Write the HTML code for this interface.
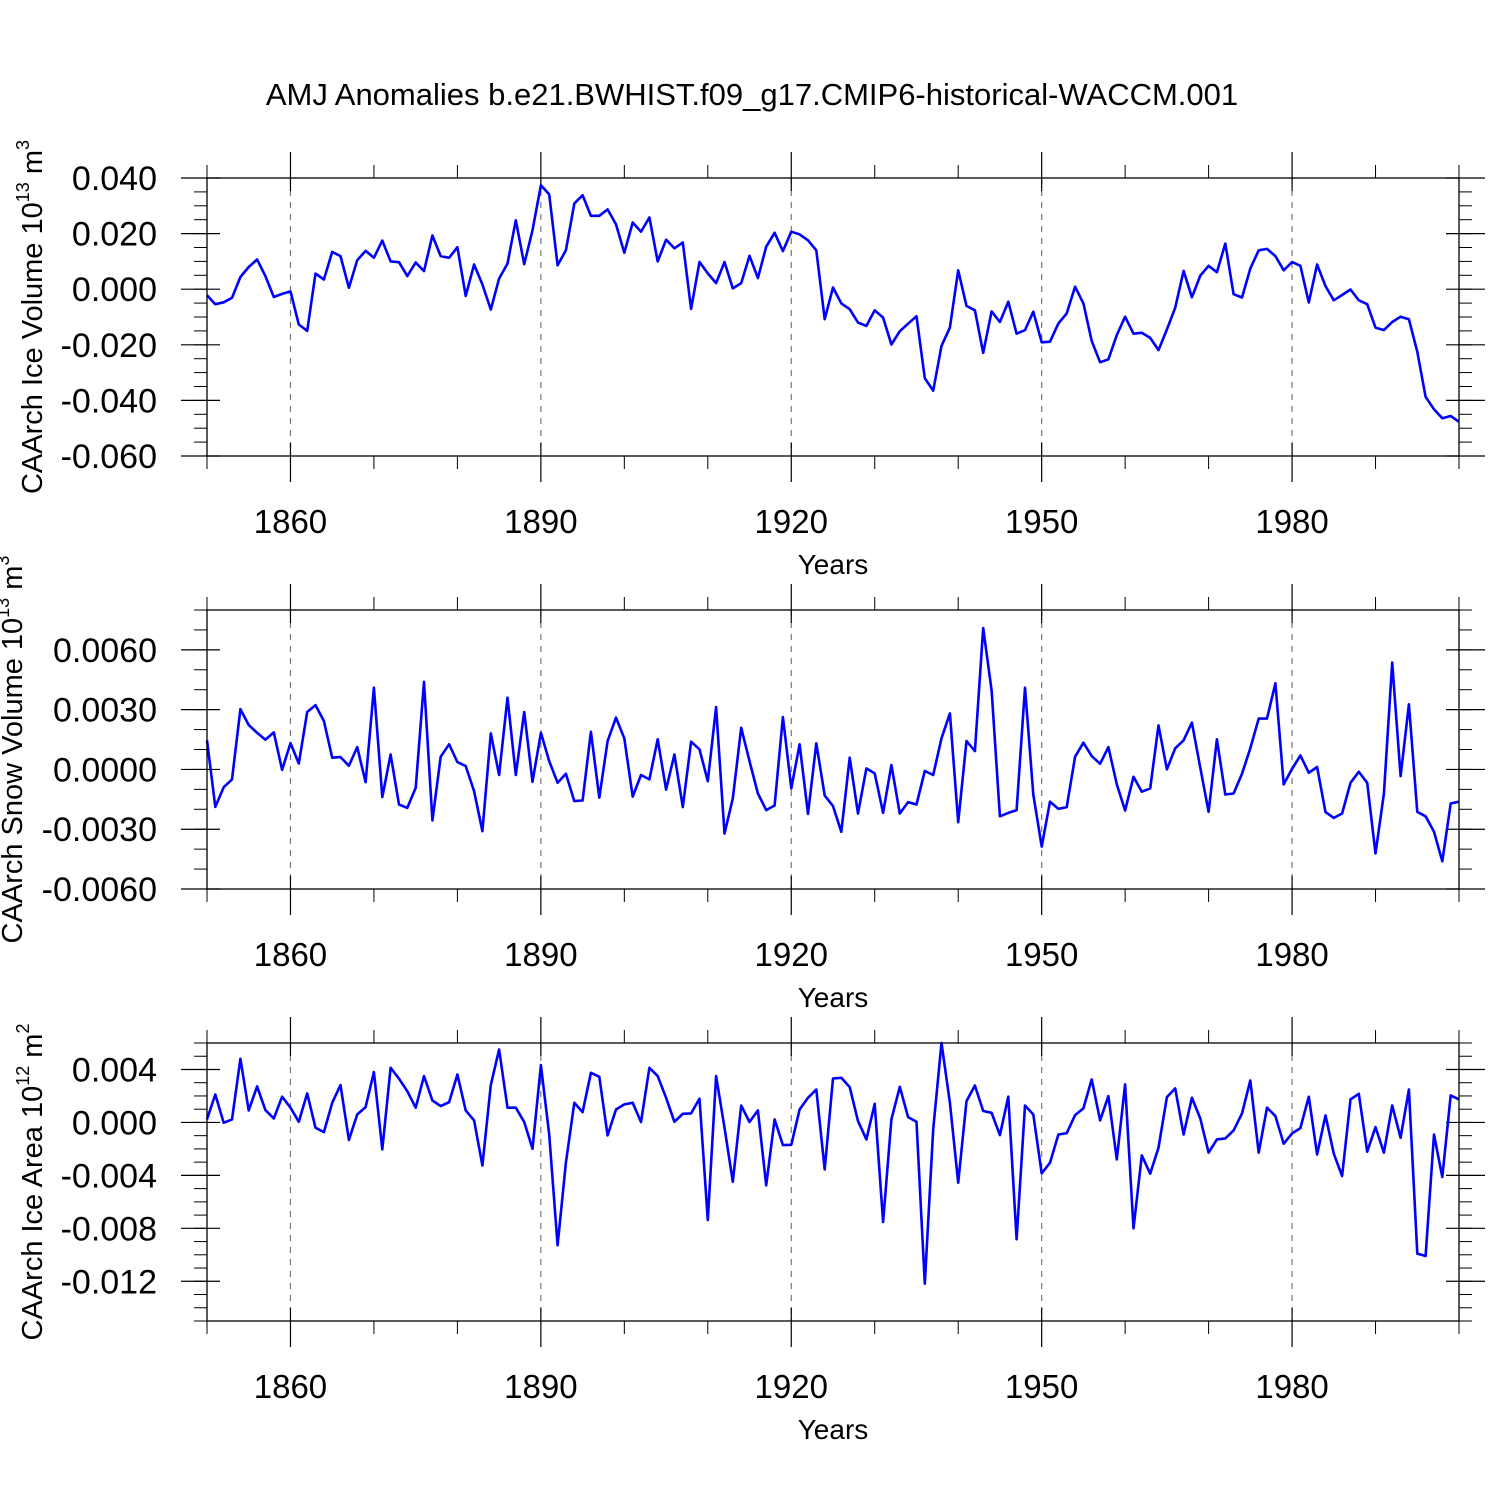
<!DOCTYPE html>
<html><head><meta charset="utf-8"><style>
html,body{margin:0;padding:0;background:#fff;}
svg{display:block;font-family:"Liberation Sans",Arial,sans-serif;}
</style></head><body>
<svg id="chart" width="1500" height="1500" viewBox="0 0 1500 1500" xmlns="http://www.w3.org/2000/svg">
<rect x="0" y="0" width="1500" height="1500" fill="#fff"/>
<text x="752" y="105" font-size="31" text-anchor="middle">AMJ Anomalies b.e21.BWHIST.f09_g17.CMIP6-historical-WACCM.001</text>
</svg>
<script>
const years = [];
for (let y = 1850; y <= 2000; y++) years.push(y);

const iceVolume = [-2.2,-5.4,-4.7,-3.1,4.4,8.0,10.7,4.7,-2.8,-1.7,-0.8,-12.7,-15.0,5.6,3.5,13.4,11.9,0.5,10.4,13.8,11.3,17.5,10.0,9.7,4.7,9.6,6.5,19.3,11.9,11.3,15.1,-2.4,8.9,1.7,-7.3,3.8,9.2,24.8,9.0,21.2,37.4,34.1,8.6,14.0,30.8,33.8,26.4,26.4,28.7,23.3,
13.1,24.0,20.7,25.8,10.0,17.8,14.7,16.8,-7.1,9.8,5.7,2.2,9.8,0.3,2.2,12.0,4.0,15.3,20.3,13.7,20.7,19.7,17.6,14.0,-10.8,0.6,-5.1,-7.2,-12.0,-13.2,-7.6,-10.2,-19.9,-15.1,-12.4,-9.7,-32.0,-36.5,-20.4,-13.8,6.8,-6.0,-7.6,-22.9,-8.0,-11.8,-4.5,-16.0,-14.7,-8.1,
-19.1,-18.9,-12.3,-8.7,0.9,-5.1,-18.6,-26.3,-25.2,-16.5,-9.9,-16.0,-15.7,-17.5,-21.9,-14.5,-6.7,6.6,-2.9,4.9,8.4,6.1,16.4,-1.8,-3.0,7.4,14.0,14.5,11.9,6.8,9.8,8.4,-4.8,8.9,1.1,-4.0,-2.1,-0.1,-4.0,-5.4,-13.8,-14.7,-11.8,-9.9,-10.8,-22.5,-38.7,-43.2,-46.4,-45.6,-47.7];

const snowVolume = [1.46,-1.88,-0.89,-0.50,3.02,2.23,1.84,1.49,1.86,-0.02,1.32,0.30,2.88,3.23,2.43,0.59,0.62,0.18,1.12,-0.64,4.10,-1.39,0.75,-1.76,-1.93,-0.92,4.39,-2.56,0.64,1.26,0.37,0.17,-1.09,-3.10,1.81,-0.28,3.60,-0.28,2.88,-0.62,1.84,0.42,-0.67,-0.22,-1.59,-1.56,1.89,-1.42,1.42,2.60,
1.56,-1.37,-0.28,-0.50,1.51,-1.01,0.75,-1.89,1.39,1.01,-0.59,3.13,-3.22,-1.46,2.09,0.42,-1.21,-2.04,-1.81,2.63,-0.95,1.26,-2.23,1.31,-1.31,-1.84,-3.13,0.59,-2.21,0.05,-0.20,-2.18,0.22,-2.21,-1.64,-1.76,-0.08,-0.28,1.56,2.81,-2.65,1.42,0.92,7.09,3.97,-2.35,-2.18,-2.04,4.10,-1.26,
-3.87,-1.62,-1.98,-1.89,0.64,1.34,0.67,0.28,1.12,-0.75,-2.06,-0.37,-1.12,-0.95,2.21,0.00,1.06,1.46,2.35,0.08,-2.13,1.51,-1.26,-1.21,-0.22,1.06,2.55,2.55,4.32,-0.75,0.03,0.70,-0.17,0.12,-2.14,-2.43,-2.21,-0.67,-0.12,-0.67,-4.22,-1.22,5.36,-0.34,3.27,-2.13,-2.35,-3.13,-4.61,-1.71,-1.62];

const iceArea = [0.23,2.11,-0.03,0.23,4.81,0.91,2.72,0.93,0.30,1.94,1.11,0.05,2.19,-0.40,-0.73,1.48,2.82,-1.33,0.60,1.16,3.80,-2.04,4.13,3.30,2.36,1.11,3.50,1.66,1.23,1.53,3.62,0.91,0.15,-3.25,2.82,5.51,1.11,1.11,0.03,-1.99,4.33,-0.91,-9.28,-3.04,1.48,0.78,3.75,3.45,-0.98,0.98,
1.36,1.48,0.03,4.13,3.50,1.86,0.05,0.65,0.68,1.79,-7.37,3.50,-0.40,-4.48,1.28,0.03,0.91,-4.75,0.23,-1.71,-1.69,0.98,1.86,2.49,-3.55,3.32,3.37,2.67,0.10,-1.28,1.41,-7.52,0.23,2.69,0.40,0.05,-12.18,-0.53,6.01,1.48,-4.55,1.61,2.79,0.86,0.73,-0.96,1.94,-8.83,1.28,0.60,
-3.85,-3.04,-0.91,-0.81,0.55,1.06,3.25,0.15,1.99,-2.79,2.87,-8.00,-2.49,-3.87,-1.91,1.91,2.57,-0.91,1.86,0.30,-2.29,-1.28,-1.21,-0.60,0.68,3.17,-2.29,1.11,0.48,-1.61,-0.83,-0.43,1.94,-2.42,0.53,-2.36,-4.05,1.74,2.16,-2.21,-0.35,-2.29,1.28,-1.16,2.49,-9.91,-10.09,-0.91,-4.13,2.04,1.74];

const xTickYears = [1860,1890,1920,1950,1980];
const iceVolTicks = [0.040,0.020,0.000,-0.020,-0.040,-0.060];
const iceVolTickLabels = ["0.040","0.020","0.000","-0.020","-0.040","-0.060"];
const snowTicks = [0.006,0.003,0.000,-0.003,-0.006];
const snowTickLabels = ["0.0060","0.0030","0.0000","-0.0030","-0.0060"];
const areaTicks = [0.004,0.000,-0.004,-0.008,-0.012];
const areaTickLabels = ["0.004","0.000","-0.004","-0.008","-0.012"];

const NS = "http://www.w3.org/2000/svg";
const svg = document.getElementById("chart");
function mk(tag, attrs, parent) {
  const e = document.createElementNS(NS, tag);
  for (const k in attrs) e.setAttribute(k, attrs[k]);
  (parent || svg).appendChild(e);
  return e;
}

const X0 = 207, X1 = 1459, XMIN = 1850, XMAX = 2000;
function xs(yr) { return X0 + (yr - XMIN) / (XMAX - XMIN) * (X1 - X0); }

function panel(cfg) {
  const g = mk("g", {});
  
  
  const ys = v => cfg.top + (cfg.ymax - v) / (cfg.ymax - cfg.ymin) * (cfg.bot - cfg.top);
  xTickYears.forEach(yr => {
    const l = mk("line", {x1: xs(yr), x2: xs(yr), y1: cfg.top, y2: cfg.bot, stroke: "#777", "stroke-width": 1.2, "stroke-dasharray": "6,6"}, g);
    
    
  });
  for (let yr = 1850; yr <= 2000; yr += 10) {
    if (xTickYears.includes(yr)) continue;
    mk("line", {x1: xs(yr), x2: xs(yr), y1: cfg.bot, y2: cfg.bot + 13, stroke: "#000", "stroke-width": 1}, g);
    mk("line", {x1: xs(yr), x2: xs(yr), y1: cfg.top, y2: cfg.top - 13, stroke: "#000", "stroke-width": 1}, g);
  }
  xTickYears.forEach(yr => {
    mk("line", {x1: xs(yr), x2: xs(yr), y1: cfg.bot - 13, y2: cfg.bot + 26, stroke: "#000", "stroke-width": 1.2}, g);
    mk("line", {x1: xs(yr), x2: xs(yr), y1: cfg.top + 13, y2: cfg.top - 26, stroke: "#000", "stroke-width": 1.2}, g);
    const t = mk("text", {x: xs(yr), y: cfg.bot + 77, "font-size": 33, "text-anchor": "middle"}, g);
    
    
    t.textContent = String(yr);
  });
  for (let v = cfg.ymin; v <= cfg.ymax + 1e-9; v += cfg.minor) {
    const y = ys(v);
    mk("line", {x1: X0 - 13, x2: X0, y1: y, y2: y, stroke: "#000", "stroke-width": 1}, g);
    mk("line", {x1: X1, x2: X1 + 13, y1: y, y2: y, stroke: "#000", "stroke-width": 1}, g);
  }
  cfg.ticks.forEach((v, i) => {
    const y = ys(v);
    mk("line", {x1: X0 - 26, x2: X0 + 13, y1: y, y2: y, stroke: "#000", "stroke-width": 1.2}, g);
    mk("line", {x1: X1 - 13, x2: X1 + 26, y1: y, y2: y, stroke: "#000", "stroke-width": 1.2}, g);
    const t = mk("text", {x: 157, y: y + 12, "font-size": 34, "text-anchor": "end"}, g);
    
    
    t.textContent = cfg.labels[i];
  });
  const pts = cfg.values.map((v, i) => xs(years[i]).toFixed(1) + "," + ys(v * cfg.scale).toFixed(1)).join(" ");
  const pl = mk("polyline", {points: pts, fill: "none", stroke: "#0000ff", "stroke-width": 2.6, "stroke-linejoin": "round"}, g);
  
  
  const fr = mk("rect", {x: X0, y: cfg.top, width: X1 - X0, height: cfg.bot - cfg.top, fill: "none", stroke: "#000", "stroke-width": 1.3}, g);
  
  
  const xt = mk("text", {x: 833, y: cfg.bot + 118, "font-size": 28, "text-anchor": "middle"}, g);
  
  
  xt.textContent = "Years";
  const cy = (cfg.top + cfg.bot) / 2;
  const yt = mk("text", {x: 0, y: 0, "font-size": 29, "text-anchor": "middle", transform: "translate(" + cfg.ytx + "," + cy + ") rotate(-90)"}, g);
  
  
  yt.textContent = cfg.ytitle + " 10";
  const s1 = mk("tspan", {"font-size": 18, dy: -13}, yt); s1.textContent = cfg.exp1;
  const s2 = mk("tspan", {"font-size": 29, dy: 13}, yt); s2.textContent = " m";
  const s3 = mk("tspan", {"font-size": 18, dy: -13}, yt); s3.textContent = cfg.exp2;
}

panel({name: "ice-volume-panel", top: 178, bot: 456, ymin: -0.06, ymax: 0.04, minor: 0.005, ticks: iceVolTicks, labels: iceVolTickLabels, values: iceVolume, scale: 0.001, ytitle: "CAArch Ice Volume", exp1: "13", exp2: "3", ytx: 42});
panel({name: "snow-volume-panel", top: 610, bot: 889, ymin: -0.006, ymax: 0.008, minor: 0.001, ticks: snowTicks, labels: snowTickLabels, values: snowVolume, scale: 0.001, ytitle: "CAArch Snow Volume", exp1: "13", exp2: "3", ytx: 22});
panel({name: "ice-area-panel", top: 1043, bot: 1321, ymin: -0.015, ymax: 0.006, minor: 0.001, ticks: areaTicks, labels: areaTickLabels, values: iceArea, scale: 0.001, ytitle: "CAArch Ice Area", exp1: "12", exp2: "2", ytx: 42});
</script>
</body></html>
